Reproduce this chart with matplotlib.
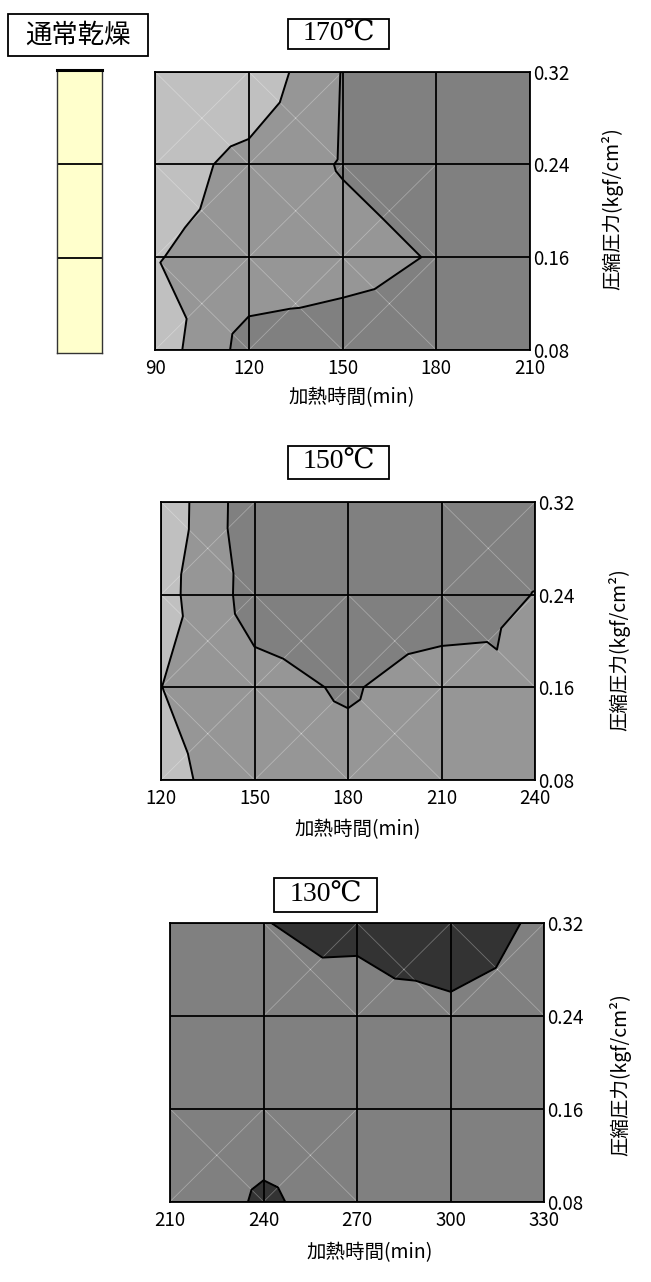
import numpy as np
import matplotlib
matplotlib.use('Agg')
import matplotlib.pyplot as plt
import matplotlib.tri as mtri
from matplotlib.patches import Rectangle

plt.rcParams['font.family'] = ['Noto Sans CJK JP', 'DejaVu Sans']

W, H = 651, 1282  # figure size in pixels

# Data ########################################################################
pressure = [0.08, 0.16, 0.24, 0.32]          # kgf/cm2
pressure_labels = ['0.08', '0.16', '0.24', '0.32']

time_170 = [90, 120, 150, 180, 210]           # min
time_150 = [120, 150, 180, 210, 240]
time_130 = [210, 240, 270, 300, 330]

# rows: pressure 0.08 -> 0.32, columns: heating time
z_170 = [[0.43, 2.39, 2.476, 2.50, 2.50],
         [0.965, 1.314, 1.63, 2.07, 2.50],
         [0.50, 1.30, 2.07, 2.50, 2.50],
         [0.10, 0.21, 2.03, 2.50, 2.50]]
z_150 = [[0.68, 1.60, 1.64, 1.60, 1.60],
         [0.988, 1.68, 2.105, 1.476, 1.95],
         [0.625, 2.411, 2.60, 2.65, 1.97],
         [0.268, 2.683, 2.60, 2.60, 2.70]]
z_130 = [[2.40, 3.12, 2.60, 2.60, 2.60],
         [2.50, 2.60, 2.60, 2.60, 2.60],
         [2.50, 2.90, 2.60, 2.693, 2.60],
         [2.50, 2.98, 3.219, 3.878, 2.703]]

levels = [0, 1, 2, 3, 4]
band_colors = ['#C0C0C0', '#969696', '#808080', '#333333']
normal_color = '#FFFFCC'
###############################################################################


def px_rect(x0, y0, x1, y1):
    return [x0 / W, 1 - y1 / H, (x1 - x0) / W, (y1 - y0) / H]


def cell_mesh(x, y, z):
    # every grid cell is split in 4 triangles around its centre point
    x = np.asarray(x, float)
    y = np.asarray(y, float)
    z = np.asarray(z, float)
    nx, ny = len(x), len(y)
    X, Y = np.meshgrid(x, y)
    px, py, pz = list(X.ravel()), list(Y.ravel()), list(z.ravel())
    tris, cells = [], []
    for j in range(ny - 1):
        for i in range(nx - 1):
            a = j * nx + i
            b = a + 1
            c = a + nx
            d = c + 1
            k = len(px)
            px.append((x[i] + x[i + 1]) / 2)
            py.append((y[j] + y[j + 1]) / 2)
            pz.append(z[j:j + 2, i:i + 2].mean())
            tris += [[a, b, k], [b, d, k], [d, c, k], [c, a, k]]
            cells.append((k, [a, b, d, c]))
    return mtri.Triangulation(px, py, tris), np.array(pz), cells


def draw_panel(rect, x, z, xlab_xy, ylab_xy):
    ax = fig.add_axes(px_rect(*rect))
    tri, zz, cells = cell_mesh(x, pressure, z)
    ax.tricontourf(tri, zz, levels=levels, colors=band_colors, zorder=1)
    # thin seams along the triangle edges where a boundary crosses the cell
    for k, corners in cells:
        vals = zz[corners + [k]]
        if any(vals.min() < lv < vals.max() for lv in levels[1:-1]):
            for p in corners:
                ax.plot([tri.x[k], tri.x[p]], [tri.y[k], tri.y[p]],
                        color='white', lw=0.6, alpha=0.3, zorder=1.5)
    ax.tricontour(tri, zz, levels=levels[1:-1], colors='k',
                  linewidths=1.4, zorder=2)
    ax.set_xlim(x[0], x[-1])
    ax.set_ylim(pressure[0], pressure[-1])
    ax.set_xticks(x)
    ax.set_yticks(pressure)
    ax.set_yticklabels(pressure_labels)
    ax.yaxis.tick_right()
    ax.grid(True, color='k', lw=1.3)
    ax.set_axisbelow(False)
    ax.tick_params(length=0, labelsize=13.5)
    ax.tick_params(axis='x', pad=6)
    ax.tick_params(axis='y', pad=2)
    for s in ax.spines.values():
        s.set_linewidth(1.3)
    fig.text(xlab_xy[0] / W, 1 - xlab_xy[1] / H, '加熱時間(min)',
             ha='center', va='center', fontsize=14)
    fig.text(ylab_xy[0] / W, 1 - ylab_xy[1] / H, '圧縮圧力(kgf/cm²)',
             ha='center', va='center', rotation=90, fontsize=14)
    return ax


def label_box(x0, y0, x1, y1, text, **kw):
    fig.add_artist(Rectangle((x0 / W, 1 - y1 / H), (x1 - x0) / W, (y1 - y0) / H,
                             transform=fig.transFigure, facecolor='white',
                             edgecolor='k', lw=1.3))
    fig.text((x0 + x1) / 2 / W, 1 - (y0 + y1) / 2 / H, text,
             ha='center', va='center', **kw)


fig = plt.figure(figsize=(W / 100, H / 100), dpi=100)

# normal drying column
ax0 = fig.add_axes(px_rect(57, 70, 102, 352.7))
for lo, hi in zip(pressure[:-1], pressure[1:]):
    ax0.axhspan(lo, hi, color=normal_color, lw=0)
for p in pressure[1:-1]:
    ax0.axhline(p, color='k', lw=1.3)
ax0.set_ylim(pressure[0], pressure[-1])
ax0.set_xticks([])
ax0.set_yticks([])
ax0.spines['top'].set_linewidth(2.2)
for s in ['left', 'right', 'bottom']:
    ax0.spines[s].set_linewidth(1.0)
    ax0.spines[s].set_color('#333333')

label_box(8, 14, 148, 56, '通常乾燥', fontsize=19)

serif = ['Liberation Serif', 'DejaVu Serif']
draw_panel((155, 71.7, 530, 350), time_170, z_170, (352, 398), (612, 209))
label_box(288, 19, 389, 49, '170℃', fontsize=20, family=serif)

draw_panel((161, 502, 535, 780), time_150, z_150, (358, 830), (619, 650))
label_box(288, 446, 389, 479, '150℃', fontsize=20, family=serif)

draw_panel((170, 923, 544.3, 1201.7), time_130, z_130, (370, 1253), (620, 1075))
label_box(274, 878, 377, 912, '130℃', fontsize=20, family=serif)

fig.savefig('out.png', dpi=100, facecolor='white')
